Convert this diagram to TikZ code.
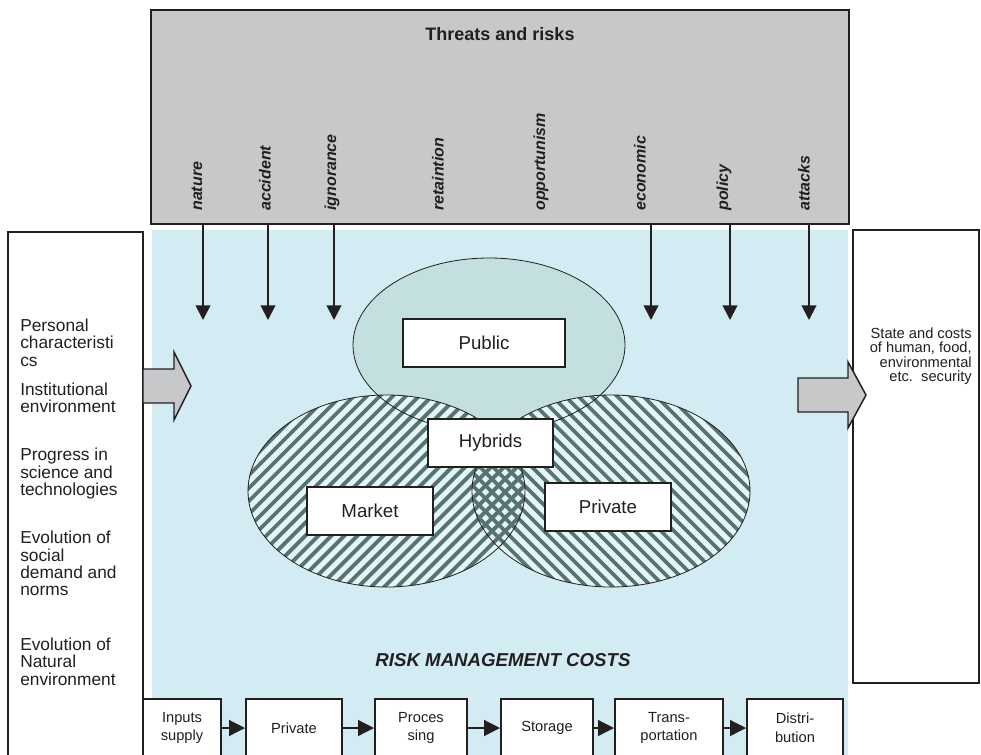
\documentclass[tikz,border=0pt]{standalone}
\usepackage{fontspec}
\setmainfont{Liberation Sans}
\usetikzlibrary{arrows.meta}
\definecolor{grayfill}{HTML}{C7C8CA}
\definecolor{bluebg}{HTML}{D3EBF2}
\definecolor{pubfill}{HTML}{C3DFE0}
\definecolor{stripedark}{HTML}{557472}
\definecolor{stripelight}{HTML}{E6F5F8}
\definecolor{ink}{HTML}{231F20}
\begin{document}
\begin{tikzpicture}[x=0.75pt,y=-0.75pt,
  threatlabel/.style={font=\fontsize{12}{12}\selectfont\bfseries\itshape, rotate=90, anchor=west, inner sep=0pt, text=ink},
  lefttext/.style={font=\fontsize{13}{13}\selectfont, anchor=base west, inner sep=0pt, text=ink},
  righttext/.style={font=\fontsize{11}{11}\selectfont, anchor=base east, inner sep=0pt, text=ink},
  sectorbox/.style={draw=ink, line width=1.5pt, fill=white, minimum height=36pt, inner sep=0pt, font=\fontsize{14}{14}\selectfont, text=ink},
  chainbox/.style={draw=ink, line width=1.3pt, fill=white, minimum height=43.5pt, inner sep=0pt, align=center, font=\fontsize{11}{14}\selectfont, text=ink},
  toparrow/.style={draw=ink, line width=1.5pt, -{Triangle[length=11pt,width=11pt]}},
  chainarrow/.style={draw=ink, line width=2.2pt, -{Triangle[length=12pt,width=11.5pt]}},
  stripe/.style={stripedark, line width=2.9pt},
  bigarrow/.style={draw=ink, line width=1.1pt, fill=grayfill, line join=miter}
]
\useasboundingbox (0,0) rectangle (981,754);
\begin{scope}
\clip (0,0) rectangle (981,754);
% background panels
\fill[bluebg] (152,230) rectangle (848,760);
\draw[ink, line width=1.1pt, fill=white] (8,232) rectangle (143,765);
\draw[ink, line width=1.1pt, fill=white] (853,230) rectangle (979,683);
% threats box
\node[draw=ink, line width=1.5pt, fill=grayfill, minimum width=523.5pt, minimum height=160.5pt, inner sep=0pt] (threats) at (500,117) {};
\node[font=\fontsize{13.5}{13.5}\selectfont\bfseries, text=ink, inner sep=0pt] (title) at (500,34) {Threats and risks};
\node[threatlabel] (l1) at (197,211) {nature};
\node[threatlabel] (l2) at (265,211) {accident};
\node[threatlabel] (l3) at (332,211) {ignorance};
\node[threatlabel] (l4) at (438,211) {retaintion};
\node[threatlabel] (l5) at (541,211) {opportunism};
\node[threatlabel] (l6) at (640,211) {economic};
\node[threatlabel] (l7) at (724,211) {policy};
\node[threatlabel] (l8) at (804,211) {attacks};
% ellipses
\fill[pubfill] (489,345) ellipse [x radius=136, y radius=87];
\fill[stripelight] (386.5,491) ellipse [x radius=138.5, y radius=96];
\fill[stripelight] (611,491) ellipse [x radius=139, y radius=96];
\begin{scope}
\clip (386.5,491) ellipse [x radius=138.5, y radius=96];
\foreach \s in {20,33,...,540} \draw[stripe] (\s,600) -- ++(225,-225);
\end{scope}
\begin{scope}
\clip (611,491) ellipse [x radius=139, y radius=96];
\foreach \s in {250,263,...,760} \draw[stripe] (\s,380) -- ++(225,225);
\end{scope}
\draw[ink, line width=0.6pt] (489,345) ellipse [x radius=136, y radius=87];
\draw[ink, line width=0.6pt] (386.5,491) ellipse [x radius=138.5, y radius=96];
\draw[ink, line width=0.6pt] (611,491) ellipse [x radius=139, y radius=96];
% sector boxes
\node[sectorbox, minimum width=121.5pt] (public) at (484,343) {Public};
\node[sectorbox, minimum width=93.75pt] (hybrids) at (490.5,443) {Hybrids};
\node[sectorbox, minimum width=94.5pt] (market) at (370,511) {Market};
\node[sectorbox, minimum width=94.5pt] (private) at (608,507) {Private};
% threat arrows
\foreach \i/\xx in {1/203,2/268,3/334,4/651,5/730,6/809}{
  \coordinate (ts\i) at (\xx,224);
  \coordinate (te\i) at (\xx,320);
  \draw[toparrow] (ts\i) -- (te\i);
}
% caption
\node[font=\fontsize{14}{14}\selectfont\bfseries\itshape, text=ink, anchor=base, inner sep=0pt] (rmc) at (503,666) {RISK MANAGEMENT COSTS};
% left texts
\foreach \t/\yy [count=\i] in {Personal/331,characteristi/348,cs/366,Institutional/395,environment/412,Progress in/460,science and/478,technologies/495,Evolution of/543,social/561,demand and/578,norms/595,Evolution of/650,Natural/667,environment/685}
  \node[lefttext] (lt\i) at (20,\yy) {\t};
% right texts
\node[righttext] (rt1) at (972,338) {State and costs};
\node[righttext] (rt2) at (972,352.5) {of human, food,};
\node[righttext] (rt3) at (972,367) {environmental};
\node[righttext] (rt4) at (972,381.5) {etc.\ \ security};
% chain boxes
\node[chainbox, minimum width=58.5pt] (inputs) at (182,728) {Inputs\\supply};
\node[chainbox, minimum width=72pt] (privchain) at (294,728) {Private};
\node[chainbox, minimum width=69pt] (proc) at (421,728) {Proces\\sing};
\node[chainbox, minimum width=69pt] (stor) at (547,728) {Storage};
\node[chainbox, minimum width=81pt] (trans) at (669,728) {Trans-\\portation};
\node[chainbox, minimum width=72pt] (distr) at (795,728) {Distri-\\bution};
\draw[chainarrow] (inputs) -- (privchain);
\draw[chainarrow] (privchain) -- (proc);
\draw[chainarrow] (proc) -- (stor);
\draw[chainarrow] (stor) -- (trans);
\draw[chainarrow] (trans) -- (distr);
% big grey arrows
\draw[bigarrow] (143,369) -- (174,369) -- (174,352) -- (191,386) -- (174,420) -- (174,403) -- (143,403) -- cycle;
\draw[bigarrow] (798,378) -- (848,378) -- (848,362) -- (866,395) -- (848,428) -- (848,412) -- (798,412) -- cycle;
\end{scope}
\end{tikzpicture}
\end{document}
